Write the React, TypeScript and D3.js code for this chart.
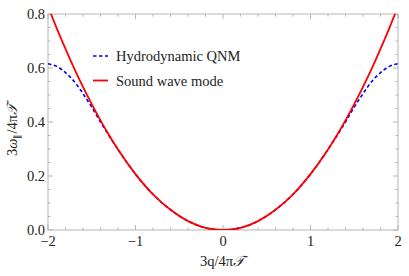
import React from "react";
import * as d3 from "d3";

const qValues = [-2, -1.9, -1.8, -1.7, -1.6, -1.5, -1.4, -1.3, -1.2, -1.0, -0.8, -0.6, -0.4, -0.2, 0, 0.2, 0.4, 0.6, 0.8, 1.0, 1.2, 1.3, 1.4, 1.5, 1.6, 1.7, 1.8, 1.9, 2];
const soundWave = [0.828, 0.747, 0.671, 0.598, 0.530, 0.466, 0.406, 0.350, 0.298, 0.207, 0.132, 0.075, 0.033, 0.008, 0, 0.008, 0.033, 0.075, 0.132, 0.207, 0.298, 0.350, 0.406, 0.466, 0.530, 0.598, 0.671, 0.747, 0.828];
const hydroQNM = [0.616, 0.606, 0.583, 0.550, 0.505, 0.455, 0.400, 0.348, 0.298, 0.207, 0.132, 0.075, 0.033, 0.008, 0, 0.008, 0.033, 0.075, 0.132, 0.207, 0.298, 0.348, 0.400, 0.455, 0.505, 0.550, 0.583, 0.606, 0.616];
const xTicks = [-2, -1, 0, 1, 2];
const yTicks = [0, 0.2, 0.4, 0.6, 0.8];
const seriesNames = ["Hydrodynamic QNM", "Sound wave mode"];

const W = 409, H = 276;
const L = 48, R = 398, T = 14, B = 230;

export default function App() {
  const x = d3.scaleLinear().domain([-2, 2]).range([L, R]);
  const y = d3.scaleLinear().domain([0, 0.8]).range([B, T]);
  const line = (vals: number[]) =>
    d3.line<number>().x((_, i) => x(qValues[i])).y((d) => y(d)).curve(d3.curveMonotoneX)(vals) || "";

  const xMinor = d3.range(-2, 2.0001, 0.2).filter((v) => Math.abs(v - Math.round(v)) > 1e-6);
  const yMinor = d3.range(0, 0.8001, 0.05).filter((v) => Math.abs(v * 5 - Math.round(v * 5)) > 1e-6);
  const frame = "#b5b5b5";
  const font = "'Liberation Serif', 'Times New Roman', serif";
  const fs = 14.5;

  return (
    <svg width={W} height={H} style={{ position: "absolute", left: 0, top: 0 }}>
      <rect x={0} y={0} width={W} height={H} fill="#fff" />
      <defs>
        <clipPath id="plotclip">
          <rect x={L} y={T} width={R - L} height={B - T} />
        </clipPath>
      </defs>
      <rect x={L} y={T} width={R - L} height={B - T} fill="none" stroke={frame} strokeWidth={1} />
      {xTicks.map((t) => (
        <g key={"xt" + t}>
          <line x1={x(t)} x2={x(t)} y1={B} y2={B - 5} stroke={frame} />
          <line x1={x(t)} x2={x(t)} y1={T} y2={T + 5} stroke={frame} />
        </g>
      ))}
      {xMinor.map((t) => (
        <g key={"xm" + t}>
          <line x1={x(t)} x2={x(t)} y1={B} y2={B - 2.5} stroke={frame} />
          <line x1={x(t)} x2={x(t)} y1={T} y2={T + 2.5} stroke={frame} />
        </g>
      ))}
      {yTicks.map((t) => (
        <g key={"yt" + t}>
          <line x1={L} x2={L + 5} y1={y(t)} y2={y(t)} stroke={frame} />
          <line x1={R} x2={R - 5} y1={y(t)} y2={y(t)} stroke={frame} />
        </g>
      ))}
      {yMinor.map((t) => (
        <g key={"ym" + t}>
          <line x1={L} x2={L + 2.5} y1={y(t)} y2={y(t)} stroke={frame} />
          <line x1={R} x2={R - 2.5} y1={y(t)} y2={y(t)} stroke={frame} />
        </g>
      ))}
      {xTicks.map((t) => (
        <text key={"xl" + t} x={x(t)} y={245.5} textAnchor="middle" fontFamily={font} fontSize={fs} fill="#222">
          {t < 0 ? "\u2212" + Math.abs(t) : String(t)}
        </text>
      ))}
      {yTicks.map((t) => (
        <text key={"yl" + t} x={45} y={y(t) + 4.5} textAnchor="end" fontFamily={font} fontSize={fs} fill="#222">
          {t.toFixed(1)}
        </text>
      ))}
      <g clipPath="url(#plotclip)">
        <path d={line(hydroQNM)} fill="none" stroke="#0000ff" strokeWidth={1.6} strokeDasharray="3.5,2.5" />
        <path d={line(soundWave)} fill="none" stroke="#ff0000" strokeWidth={1.8} />
      </g>
      <g>
        <line x1={93} x2={108} y1={56} y2={56} stroke="#0000ff" strokeWidth={1.6} strokeDasharray="3.5,2.5" />
        <text x={116} y={61} fontFamily={font} fontSize={fs} fill="#222">{seriesNames[0]}</text>
        <line x1={93} x2={108} y1={80.5} y2={80.5} stroke="#ff0000" strokeWidth={1.8} />
        <text x={116} y={85.5} fontFamily={font} fontSize={fs} fill="#222">{seriesNames[1]}</text>
      </g>
      <text x={222} y={266} textAnchor="middle" fontFamily={font} fontSize={fs} fill="#222">
        3q/4π<tspan fontStyle="italic">𝒯</tspan>
      </text>
      <text transform="translate(17,130) rotate(-90)" textAnchor="middle" fontFamily={font} fontSize={fs} fill="#222">
        3<tspan fontStyle="italic">ω</tspan><tspan fontSize={9} dy={3}>∥</tspan><tspan dy={-3}>/4π</tspan><tspan fontStyle="italic">𝒯</tspan>
      </text>
    </svg>
  );
}
